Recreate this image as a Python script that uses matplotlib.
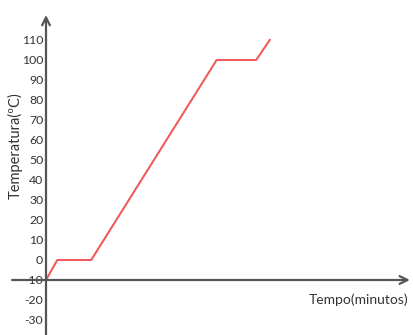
import numpy as np
import matplotlib.pyplot as plt

plt.rcParams['font.family'] = ['Lato', 'DejaVu Sans']

# heating curve
tempo = [0, 1, 4, 15.1, 18.6, 19.8]
temperatura = [-10, 0, 0, 100, 100, 110]
yticks = list(range(-30, 111, 10))

fig = plt.figure(figsize=(4.14, 3.35), dpi=100)
ax = fig.add_axes([0, 0, 1, 1])
ax.set_xlim(-46 / 11.3, 368 / 11.3)
ax.set_ylim(-37.5, 130)

ax.plot(tempo, temperatura, color='#f0494b', lw=1.5, alpha=0.9, zorder=3)

for s in ax.spines.values():
    s.set_visible(False)
ax.spines['left'].set_position(('data', 0))
ax.spines['bottom'].set_position(('data', -10))

axis_col = '#555555'
# y axis with arrow
ax.annotate('', xy=(0, 122.5), xytext=(0, -37.5),
            arrowprops=dict(arrowstyle='->', color=axis_col, lw=1.6,
                            mutation_scale=14, shrinkA=0, shrinkB=0))
# x axis with arrow
ax.annotate('', xy=(32.2, -10), xytext=(-3.0, -10),
            arrowprops=dict(arrowstyle='->', color=axis_col, lw=1.6,
                            mutation_scale=14, shrinkA=0, shrinkB=0))

ax.set_xticks([])
ax.set_yticks(yticks)
ax.set_yticklabels([str(v) for v in yticks])
ax.tick_params(axis='y', length=0, pad=2, labelsize=8.8, labelcolor='#333333')

ax.text(-2.75, 57, 'Temperatura(ºC)', rotation=90, ha='center', va='center',
        fontsize=10.5, color='#333333')
ax.text(32.1, -20, 'Tempo(minutos)', ha='right', va='center',
        fontsize=10, color='#333333')

fig.savefig('out.png', dpi=100)
